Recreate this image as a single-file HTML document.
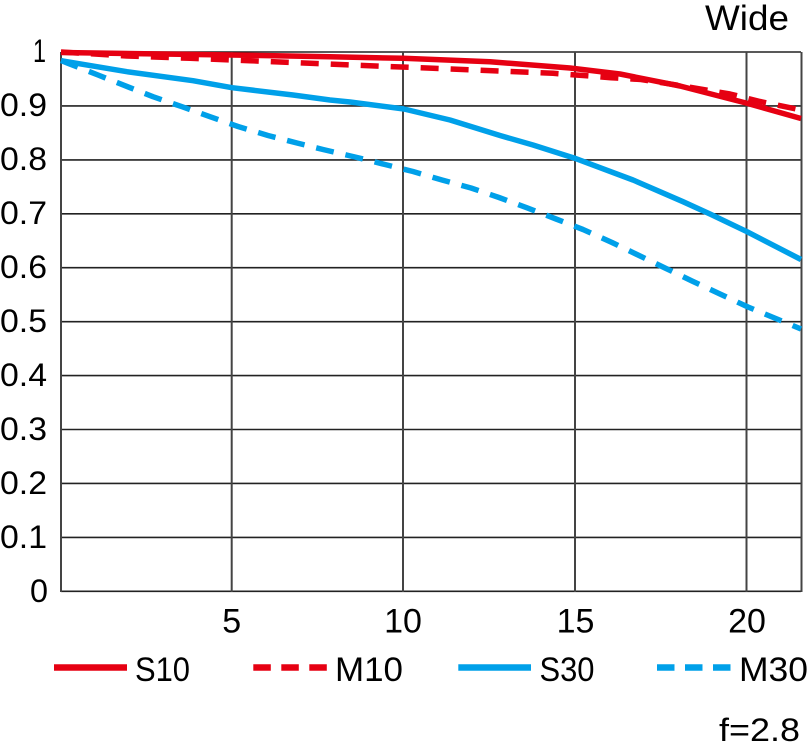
<!DOCTYPE html>
<html><head><meta charset="utf-8"><style>
html,body{margin:0;padding:0;background:#fff;}
svg{display:block;}
text{font-family:"Liberation Sans",sans-serif;fill:#000;}
</style></head><body>
<svg width="810" height="749" viewBox="0 0 810 749" xmlns="http://www.w3.org/2000/svg">
<g stroke="#222" stroke-width="1.6">
<line x1="61" y1="52" x2="801" y2="52"/>
<line x1="61" y1="105.9" x2="801" y2="105.9"/>
<line x1="61" y1="159.9" x2="801" y2="159.9"/>
<line x1="61" y1="213.8" x2="801" y2="213.8"/>
<line x1="61" y1="267.7" x2="801" y2="267.7"/>
<line x1="61" y1="321.7" x2="801" y2="321.7"/>
<line x1="61" y1="375.6" x2="801" y2="375.6"/>
<line x1="61" y1="429.5" x2="801" y2="429.5"/>
<line x1="61" y1="483.4" x2="801" y2="483.4"/>
<line x1="61" y1="537.4" x2="801" y2="537.4"/>
<line x1="61" y1="591.3" x2="801" y2="591.3"/>
</g>
<g stroke="#444" stroke-width="2">
<line x1="61" y1="52" x2="61" y2="592"/>
<line x1="231.7" y1="52" x2="231.7" y2="592"/>
<line x1="403" y1="52" x2="403" y2="592"/>
<line x1="575" y1="52" x2="575" y2="592"/>
<line x1="746.5" y1="52" x2="746.5" y2="592"/>
<line x1="801.5" y1="52" x2="801.5" y2="592"/>
</g>
<g fill="none" stroke-width="5.5" stroke-linejoin="round">
<polyline stroke="#00a0e9" stroke-dasharray="18 12" points="61,60.5 68,63.3 98,75 125,85.7 153,96.7 182,106.7 210,116.7 238,126.5 268,135.5 297,143 323,149.5 355,157 385,164.5 413,171.5 442,180 471,188 499,197.5 527,207.8 556,219 583,229.5 612,242.5 638,255 665,268 692,281 720,294 748,307 777,319 801,329"/>
<polyline stroke="#00a0e9" points="61,60.7 127,71.7 193,80.7 232,87.7 293,95 330,100 350,102 404,109 450,120 500,135.5 533,145 570,156.7 575,158.3 633,180 683,201.7 710,214 747,231.7 801,259.5"/>
<polyline stroke="#e60012" stroke-dasharray="18 12" points="61,52 127,56 190,58.3 250,60.7 310,63.3 433,68.3 553,73.3 590,76 611,77.7 641,79.5 680,85.5 730,94 760,101.5 801,110"/>
<polyline stroke="#e60012" points="61,52.5 231,55 330,56.7 403,58.3 490,61.7 570,68 620,74 680,86 746,103 801,118.5"/>
</g>
<g font-size="32">
<text x="33" y="62" textLength="13" lengthAdjust="spacingAndGlyphs">1</text>
<text x="0" y="116" textLength="47" lengthAdjust="spacingAndGlyphs">0.9</text>
<text x="0" y="170" textLength="47" lengthAdjust="spacingAndGlyphs">0.8</text>
<text x="0" y="224" textLength="47" lengthAdjust="spacingAndGlyphs">0.7</text>
<text x="0" y="278" textLength="47" lengthAdjust="spacingAndGlyphs">0.6</text>
<text x="0" y="332" textLength="47" lengthAdjust="spacingAndGlyphs">0.5</text>
<text x="0" y="386" textLength="47" lengthAdjust="spacingAndGlyphs">0.4</text>
<text x="0" y="440" textLength="47" lengthAdjust="spacingAndGlyphs">0.3</text>
<text x="0" y="494" textLength="47" lengthAdjust="spacingAndGlyphs">0.2</text>
<text x="0" y="548" textLength="47" lengthAdjust="spacingAndGlyphs">0.1</text>
<text x="30" y="602" textLength="18" lengthAdjust="spacingAndGlyphs">0</text>
</g>
<g font-size="34" text-anchor="middle">
<text x="231.7" y="632.5">5</text>
<text x="403" y="632.5">10</text>
<text x="575.5" y="632.5">15</text>
<text x="747" y="632.5">20</text>
</g>
<text x="705" y="30" font-size="35" textLength="84" lengthAdjust="spacingAndGlyphs">Wide</text>
<g stroke-width="6.5">
<line x1="54" y1="667.5" x2="127" y2="667.5" stroke="#e60012"/>
<line x1="253.3" y1="667.5" x2="327" y2="667.5" stroke="#e60012" stroke-dasharray="17.5 10.5"/>
<line x1="458.3" y1="667.5" x2="531" y2="667.5" stroke="#00a0e9"/>
<line x1="657" y1="667.5" x2="731" y2="667.5" stroke="#00a0e9" stroke-dasharray="17.5 10.5"/>
</g>
<g font-size="34">
<text x="135" y="681" textLength="55" lengthAdjust="spacingAndGlyphs">S10</text>
<text x="335" y="681" textLength="68" lengthAdjust="spacingAndGlyphs">M10</text>
<text x="539.5" y="681" textLength="55" lengthAdjust="spacingAndGlyphs">S30</text>
<text x="739" y="681" textLength="69" lengthAdjust="spacingAndGlyphs">M30</text>
</g>
<text x="719" y="741" font-size="32" textLength="81" lengthAdjust="spacingAndGlyphs">f=2.8</text>
</svg>
</body></html>
